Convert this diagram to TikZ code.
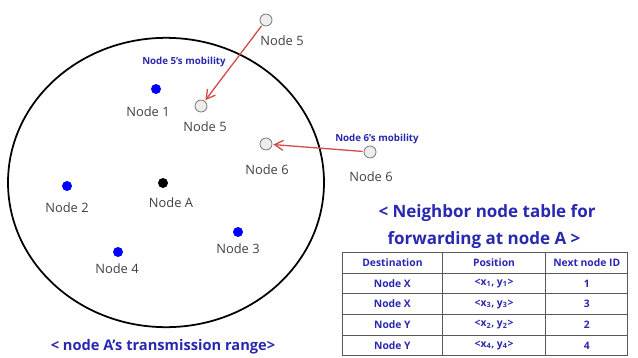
\documentclass[tikz,border=0pt]{standalone}
\usepackage{fontspec}
\setmainfont{Open Sans}
\usetikzlibrary{arrows.meta,matrix}
\definecolor{labelgray}{HTML}{404040}
\definecolor{mobblue}{HTML}{2828B0}
\definecolor{moveRed}{HTML}{D04A4A}
\definecolor{dotblue}{HTML}{0000FF}
\definecolor{hollowfill}{HTML}{EDEDED}
\definecolor{hollowedge}{HTML}{6E6E6E}
\definecolor{tabgray}{HTML}{5A5A5A}

\begin{document}
\begin{tikzpicture}[x=0.3mm,y=-0.3mm,
    nbr/.style={circle,fill=dotblue,inner sep=0pt,minimum size=3mm},
    srcdot/.style={circle,fill=black,inner sep=0pt,minimum size=3mm},
    moved/.style={circle,draw=hollowedge,fill=hollowfill,line width=0.6pt,inner sep=0pt,minimum size=3.6mm},
    lbl/.style={text=labelgray,font=\fontsize{11}{13}\selectfont,inner sep=0pt},
    mob/.style={text=mobblue,font=\fontsize{8.3}{10}\selectfont\bfseries,inner sep=0pt},
    caption/.style={text=mobblue,font=\fontsize{12.5}{14}\selectfont\bfseries,inner sep=0pt},
    movearrow/.style={-{Straight Barb[length=2.6mm,width=3mm]},moveRed,line width=1.1pt,shorten <=0.3mm,shorten >=0.3mm},
    cell/.style={draw=tabgray,line width=0.7pt,text=mobblue,font=\fontsize{8.8}{10}\selectfont\bfseries,
                 minimum height=6.2mm,inner sep=0pt,anchor=center}
  ]
  \useasboundingbox (0,0) rectangle (638,358);

  % transmission range of node A
  \draw[line width=1.5pt] (166,182.5) ellipse [x radius=47.4mm, y radius=43.4mm];
  \node[caption] (rangecap) at (163,347) {< node A’s transmission range>};

  % nodes inside the range
  \node[srcdot] (nA) at (163,183) {};
  \node[lbl] (lA) at (171,203) {Node A};
  \node[nbr] (n1) at (156,89) {};
  \node[lbl] (l1) at (148,112) {Node 1};
  \node[nbr] (n2) at (67,186) {};
  \node[lbl] (l2) at (67,208) {Node 2};
  \node[nbr] (n3) at (238,232) {};
  \node[lbl] (l3) at (238,249) {Node 3};
  \node[nbr] (n4) at (118,252) {};
  \node[lbl] (l4) at (117,269) {Node 4};

  % moving nodes
  \node[moved] (n5out) at (266,20) {};
  \node[lbl] (l5out) at (282,41) {Node 5};
  \node[moved] (n5in) at (201,106) {};
  \node[lbl] (l5in) at (205,127) {Node 5};
  \node[moved] (n6in) at (266,144) {};
  \node[lbl] (l6in) at (267,170) {Node 6};
  \node[moved] (n6out) at (370,152) {};
  \node[lbl] (l6out) at (371,177) {Node 6};

  \draw[movearrow] (n5out) -- (n5in);
  \draw[movearrow] (n6out) -- (n6in);
  \node[mob] (mob5) at (184,62) {Node 5’s mobility};
  \node[mob] (mob6) at (377,139) {Node 6’s mobility};

  % neighbor table
  \node[caption,font=\fontsize{14.5}{16}\selectfont\bfseries] (tabcap1) at (487,213) {< Neighbor node table for};
  \node[caption,font=\fontsize{14.5}{16}\selectfont\bfseries] (tabcap2) at (484,240) {forwarding at node A >};
  \matrix (nbrtab) [matrix of nodes,anchor=north west,inner sep=0pt,outer sep=0pt,nodes={cell},
    column sep=-0.7pt,row sep=-0.7pt,
    column 1/.style={nodes={minimum width=30.0mm}},
    column 2/.style={nodes={minimum width=31.0mm}},
    column 3/.style={nodes={minimum width=24.6mm}}] at (342,252) {
    Destination & Position & Next node ID \\
    Node X & <x\textsubscript{1}, y\textsubscript{1}> & 1 \\
    Node X & <x\textsubscript{3}, y\textsubscript{3}> & 3 \\
    Node Y & <x\textsubscript{2}, y\textsubscript{2}> & 2 \\
    Node Y & <x\textsubscript{4}, y\textsubscript{4}> & 4 \\
  };
  \draw[tabgray,line width=1.1pt] (nbrtab-1-1.north west) rectangle (nbrtab-5-3.south east);
\end{tikzpicture}
\end{document}
